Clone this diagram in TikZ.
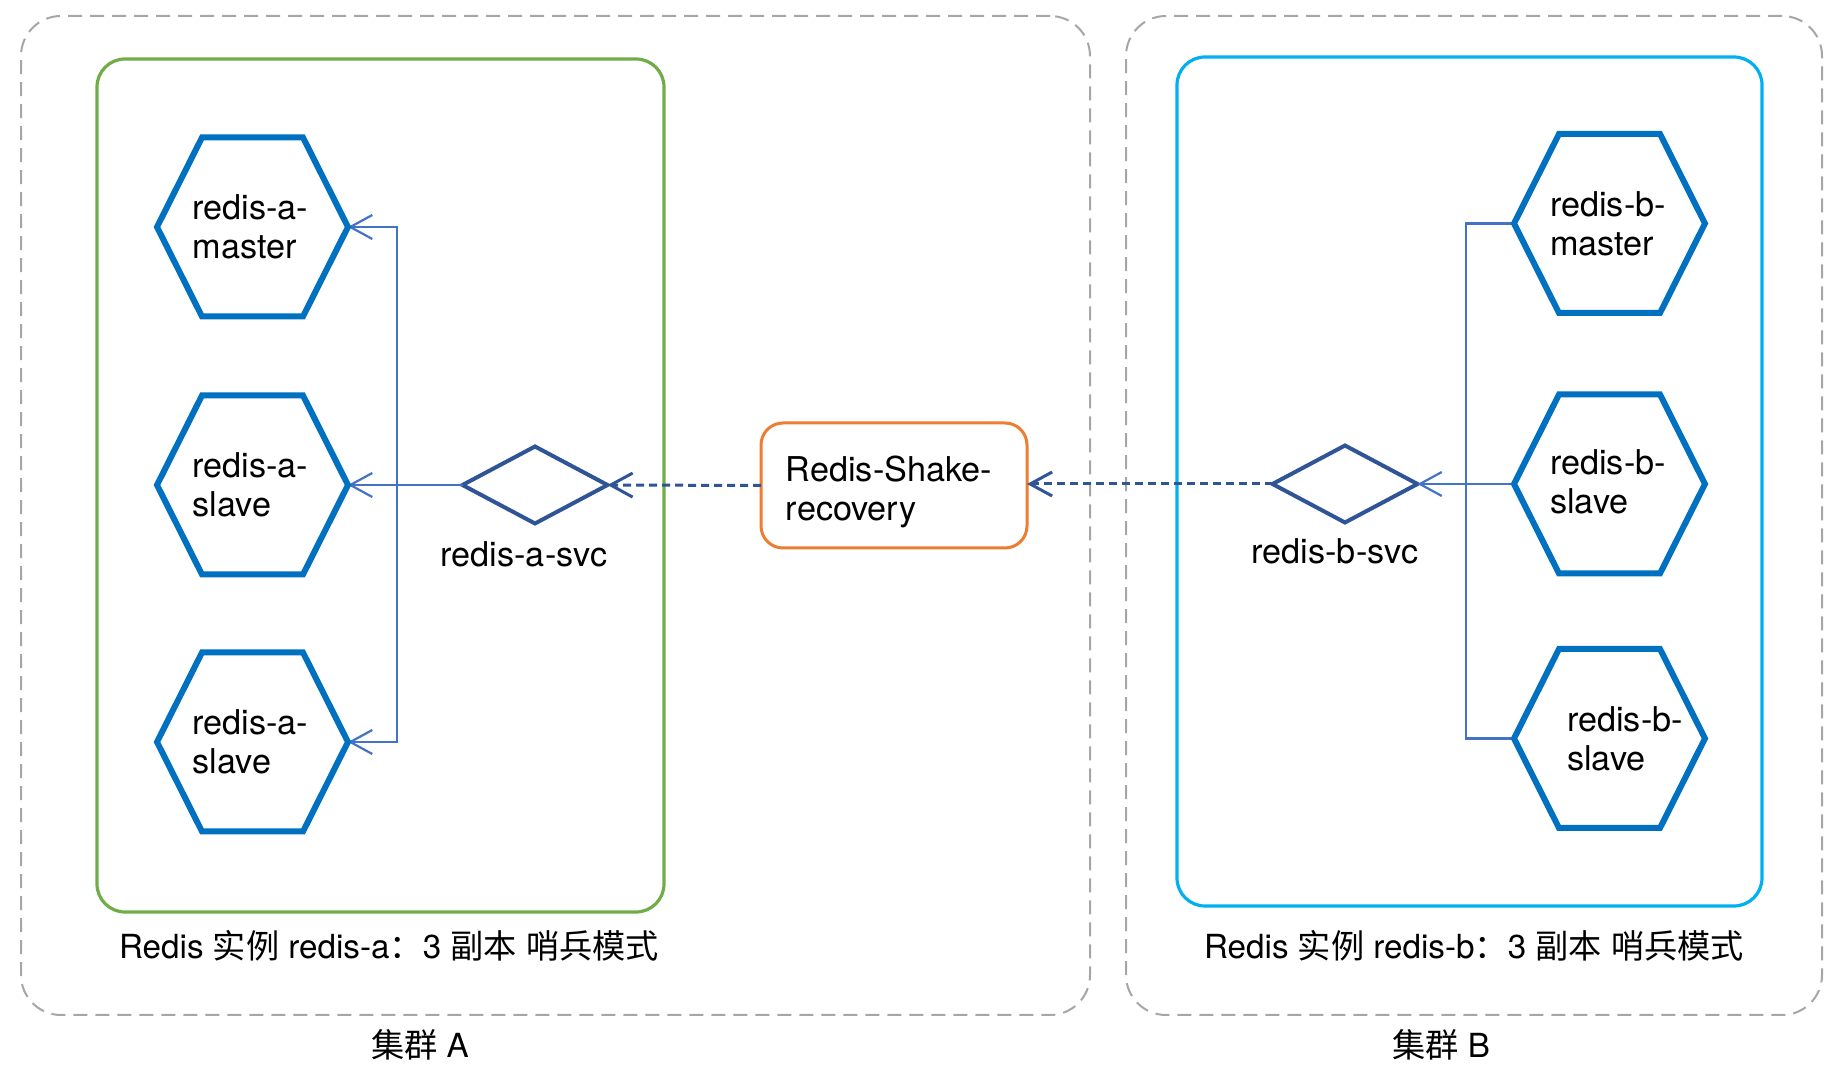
\documentclass[tikz,border=0pt]{standalone}
\usepackage{fontspec}
\setmainfont{TeX Gyre Heros}
\newfontfamily\cjk{Noto Sans CJK SC}
\usetikzlibrary{shapes.geometric,arrows.meta,calc}
\definecolor{hexblue}{HTML}{0070C0}
\definecolor{connblue}{HTML}{4472C4}
\definecolor{darkblue}{HTML}{2F5597}
\definecolor{boxgreen}{HTML}{70AD47}
\definecolor{boxcyan}{HTML}{00B0F0}
\definecolor{boxorange}{HTML}{ED7D31}
\definecolor{boxgray}{HTML}{A6A6A6}
\newcommand\dfont{\fontsize{16.6pt}{19.5pt}\selectfont}
\newcommand\lfont{\fontsize{17.1pt}{19.5pt}\selectfont}
\newcommand\hexdraw[1]{\draw[hexline] (#1.west) -- ($(#1.north west)+(45,0)$) -- ($(#1.north east)+(-45,0)$) -- (#1.east) -- ($(#1.south east)+(-45,0)$) -- ($(#1.south west)+(45,0)$) -- cycle;}
\begin{document}
\begin{tikzpicture}[x=0.5pt,y=-0.5pt,
  every node/.style={font=\dfont, text=black},
  cluster/.style={draw=boxgray, dash pattern=on 7pt off 4pt, line width=1pt, rounded corners=20pt, inner sep=0pt, outer sep=0pt},
  instbox/.style={line width=1.6pt, rounded corners=14pt, inner sep=0pt, outer sep=0pt},
  hexbox/.style={minimum width=95.5pt, minimum height=89.5pt, inner sep=0pt, outer sep=0pt},
  hexline/.style={draw=hexblue, line width=3pt},
  hextext/.style={align=left, inner sep=0pt, font=\lfont},
  svctext/.style={anchor=base, font=\lfont},
  svc/.style={shape=diamond, draw=darkblue, line width=2pt, minimum width=72.5pt, minimum height=38.5pt, inner sep=0pt, outer sep=0pt},
  conn/.style={draw=connblue, line width=1.1pt},
  tip/.style={-{Straight Barb[length=11pt,width=12pt]}},
  dashconn/.style={draw=darkblue, line width=1.5pt, dash pattern=on 4pt off 2.5pt}
]
\useasboundingbox (0,0) rectangle (1844,1074);

% clusters
\node[cluster, minimum width=534.5pt, minimum height=499.5pt] (clA) at (555.5,515.5) {};
\node[cluster, minimum width=348pt, minimum height=499.5pt] (clB) at (1474,515.5) {};

% instance boxes
\node[instbox, draw=boxgreen, minimum width=283.5pt, minimum height=426.5pt] (insA) at (380.5,485.5) {};
\node[instbox, draw=boxcyan, minimum width=292.5pt, minimum height=424.5pt] (insB) at (1469.5,481.5) {};

% redis-shake box
\node[draw=boxorange, line width=1.5pt, rounded corners=11pt, minimum width=133pt, minimum height=62.5pt, inner sep=0pt, outer sep=0pt] (rs) at (894,485.5) {};
\node[hextext] (rst) at (889,492) {Redis-Shake-\\recovery};

% hexagon nodes
\node[hexbox] (am) at (252.5,227) {};
\node[hexbox] (as1) at (252.5,485) {};
\node[hexbox] (as2) at (252.5,742) {};
\node[hexbox] (bm) at (1609.5,223.5) {};
\node[hexbox] (bs1) at (1609.5,484) {};
\node[hexbox] (bs2) at (1609.5,738.5) {};

% services
\node[svc] (asvc) at (535,485) {};
\node[svc] (bsvc) at (1345,484) {};
\node[svctext] (asvct) at (524,567) {redis-a-svc};
\node[svctext] (bsvct) at (1335,564) {redis-b-svc};

% bus junctions
\coordinate (ja) at (397,485);
\coordinate (jb) at (1466,484);

% connectors cluster A
\draw[conn,tip] (asvc.west) -- (as1.east);
\draw[conn,tip] (ja) |- (am.east);
\draw[conn,tip] (ja) |- (as2.east);

% connectors cluster B
\draw[conn,tip] (bs1.west) -- (bsvc.east);
\draw[conn] (bm.west) -| (jb);
\draw[conn] (bs2.west) -| (jb);

% dashed links
\draw[dashconn,tip] (rs.west) -- (asvc.east);
\draw[dashconn,tip] (bsvc.west) -- (bsvc.west -| rs.east);

% hexagon outlines
\hexdraw{am}
\hexdraw{as1}
\hexdraw{as2}
\hexdraw{bm}
\hexdraw{bs1}
\hexdraw{bs2}

% hexagon texts
\node[hextext] (amt) at (250.5,227) {redis-a-\\master};
\node[hextext] (as1t) at (250.5,485) {redis-a-\\slave};
\node[hextext] (as2t) at (250.5,742) {redis-a-\\slave};
\node[hextext] (bmt) at (1608,223.5) {redis-b-\\master};
\node[hextext] (bs1t) at (1608,482) {redis-b-\\slave};
\node[hextext] (bs2t) at (1625,738.5) {redis-b-\\slave};

% captions
\node[anchor=base] (capA) at (389,958) {Redis {\cjk 实例} redis-a{\cjk ：}3 {\cjk 副本} {\cjk 哨兵模式}};
\node[anchor=base] (capB) at (1474,958) {Redis {\cjk 实例} redis-b{\cjk ：}3 {\cjk 副本} {\cjk 哨兵模式}};
\node[anchor=base] (clAt) at (420,1058) {{\cjk 集群} A};
\node[anchor=base] (clBt) at (1441,1058) {{\cjk 集群} B};
\end{tikzpicture}
\end{document}
